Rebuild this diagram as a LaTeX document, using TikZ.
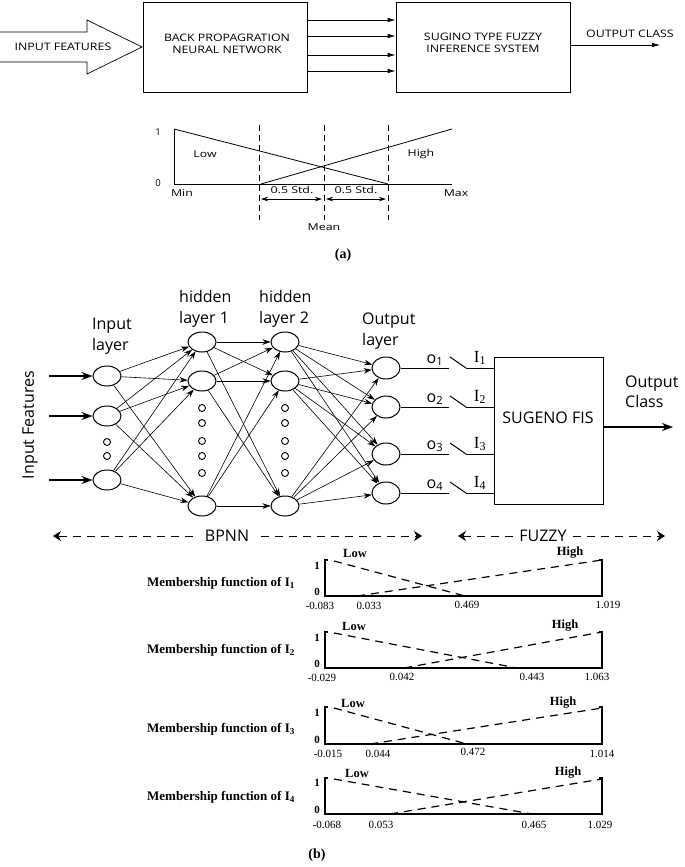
\documentclass[tikz,border=0pt]{standalone}
\usepackage{fontspec}
\setmainfont{Liberation Serif}
\newfontfamily\osans{Open Sans}
\usetikzlibrary{arrows.meta,shapes.geometric}
\newcommand\wx[2][1.2]{\scalebox{#1}[1]{#2}}
\begin{document}
\begin{tikzpicture}[x=1pt,y=-1pt,
 topbox/.style={draw,line width=0.7pt,minimum height=90pt,inner sep=0pt},
 toptxt/.style={font=\osans\fontsize{10.3}{12.5}\selectfont,align=center,inner sep=0pt},
 atxt/.style={font=\osans\fontsize{9.5}{11}\selectfont,inner sep=0pt},
 thinarr/.style={line width=0.7pt,-{Latex[length=8pt,width=4.5pt]}},
 aline/.style={line width=0.8pt},
 adash/.style={line width=0.8pt,dash pattern=on 6pt off 4pt},
 dblarr/.style={line width=0.7pt,{Stealth[length=7pt,width=4.5pt]}-{Stealth[length=7pt,width=4.5pt]}},
 neuron/.style={draw,ellipse,line width=1pt,minimum width=28pt,minimum height=20pt,inner sep=0pt},
 dotc/.style={draw,circle,line width=0.9pt,minimum size=7pt,inner sep=0pt},
 conn/.style={line width=0.6pt,-{Stealth[length=8pt,width=5.5pt]}},
 bigarr/.style={line width=1.4pt,-{Stealth[length=11pt,width=8pt]}},
 nlab/.style={font=\osans\fontsize{16}{20.5}\selectfont,align=left,inner sep=0pt},
 wire/.style={line width=1pt},
 dashrow/.style={line width=1pt,dash pattern=on 8pt off 6pt,-{Stealth[length=8pt,width=10pt]}},
 mfname/.style={font=\bfseries\fontsize{13}{15}\selectfont,inner sep=0pt,anchor=west},
 mflab/.style={font=\bfseries\fontsize{12.5}{14}\selectfont,inner sep=0pt},
 mfnum/.style={font=\bfseries\fontsize{11}{12}\selectfont,inner sep=0pt},
 ticklab/.style={font=\fontsize{11}{12}\selectfont,inner sep=0pt},
 mfdash/.style={line width=1.2pt,dash pattern=on 8pt off 6pt},
 mfaxis/.style={line width=1.6pt},
 captext/.style={font=\bfseries\fontsize{14}{16}\selectfont,inner sep=0pt},
]
\useasboundingbox (0,0) rectangle (685,867);
\fill[white] (0,0) rectangle (685,867);

% ---------------- top block diagram ----------------
\draw[line width=0.7pt] (0,32) -- (87,32) -- (87,20) -- (142,47) -- (87,74) -- (87,62) -- (0,62);
\node[toptxt] (inft) at (63,47) {\wx{INPUT FEATURES}};
\node[topbox,minimum width=164pt] (bpnn) at (225,47) {};
\node[toptxt] (bpnnt) at (227,44) {\wx{BACK PROPAGRATION}\\\wx{NEURAL NETWORK}};
\node[topbox,minimum width=174pt] (fis) at (483,47) {};
\node[toptxt] (fist) at (483,43) {\wx{SUGINO TYPE FUZZY}\\\wx{INFERENCE SYSTEM}};
\foreach \yy in {20,36,55,71} \draw[thinarr] (bpnn.east |- 0,\yy) -- (fis.west |- 0,\yy);
\coordinate (outend) at (660,45);
\draw[thinarr] (fis.east |- outend) -- (outend);
\node[toptxt] (outct) at (630,34) {\wx{OUTPUT CLASS}};

% ---------------- membership (a) ----------------
\coordinate (aO) at (174,184);
\coordinate (aT) at (174,129);
\coordinate (aM) at (452,184);
\coordinate (aH) at (452,129);
\coordinate (lowend) at (388,184);
\coordinate (highst) at (261,184);
\draw[aline] (aT) -- (aO) -- (aM);
\draw[aline] (aT) -- (lowend);
\draw[aline] (highst) -- (aH);
\foreach \xx in {259,324,388} \draw[adash] (\xx,125) -- (\xx,220);
\coordinate (s1a) at (261,199); \coordinate (s1b) at (322,199);
\coordinate (s2a) at (326,199); \coordinate (s2b) at (386,199);
\draw[dblarr] (s1a) -- (s1b);
\draw[dblarr] (s2a) -- (s2b);
\node[atxt] (a1) at (158,132) {1};
\node[atxt] (a0) at (158,183) {0};
\node[atxt] (alow) at (205,154) {\wx[1.3]{Low}};
\node[atxt] (ahigh) at (421,154) {\wx[1.3]{High}};
\node[atxt] (amin) at (182,193) {\wx[1.3]{Min}};
\node[atxt] (amax) at (456,193) {\wx[1.3]{Max}};
\node[atxt] (astd1) at (292,190) {\wx[1.3]{0.5 Std.}};
\node[atxt] (astd2) at (356,190) {\wx[1.3]{0.5 Std.}};
\node[atxt] (amean) at (324,227) {\wx[1.3]{Mean}};
\node[captext] (capa) at (343,255) {(a)};

% ---------------- network ----------------
\node[neuron] (in1) at (107,376) {};
\node[neuron] (in2) at (107,416) {};
\node[neuron] (in3) at (107,480) {};
\node[dotc] (ind1) at (107,442) {};
\node[dotc] (ind2) at (107,456) {};
\node[neuron] (h1a) at (202,342) {};
\node[neuron] (h1b) at (202,381) {};
\node[neuron] (h1c) at (202,506) {};
\node[neuron] (h2a) at (285,342) {};
\node[neuron] (h2b) at (285,381) {};
\node[neuron] (h2c) at (285,506) {};
\foreach \yy [count=\k] in {408,423,441,456,473} {
  \node[dotc] (hd1\k) at (202,\yy) {};
  \node[dotc] (hd2\k) at (285,\yy) {};
}
\node[neuron,minimum height=22pt] (o1) at (386,368) {};
\node[neuron,minimum height=22pt] (o2) at (386,407) {};
\node[neuron,minimum height=22pt] (o3) at (386,454) {};
\node[neuron,minimum height=22pt] (o4) at (386,493) {};

\foreach \s in {in1,in2,in3} \foreach \t in {h1a,h1b,h1c} \draw[conn] (\s) -- (\t);
\foreach \s in {h1a,h1b,h1c} \foreach \t in {h2a,h2b,h2c} \draw[conn] (\s) -- (\t);
\foreach \s in {h2a,h2b,h2c} \foreach \t in {o1,o2,o3,o4} \draw[conn] (\s) -- (\t);

\foreach \n in {in1,in2,in3} {
  \coordinate (src\n) at (49,0);
  \draw[bigarr] (src\n |- \n) -- (\n.west);
}
\node[nlab,rotate=90] (inf) at (30,425) {Input Features};
\node[nlab,anchor=west] (inl) at (92,336) {Input\\layer};
\node[nlab,anchor=west] (h1l) at (179,309) {hidden\\layer 1};
\node[nlab,anchor=west] (h2l) at (259,309) {hidden\\layer 2};
\node[nlab,anchor=west] (outl) at (362,331) {Output\\layer};

% fuzzy system box
\node[draw,line width=1pt,minimum width=109pt,minimum height=147pt,inner sep=0pt] (sug) at (548.5,430.5) {};
\node[nlab] (sugt) at (548,418) {SUGENO FIS};
\foreach \o [count=\k] in {o1,o2,o3,o4} {
  \coordinate (sw\k a) at (449,0);
  \coordinate (sw\k b) at (466,0);
  \draw[wire] (\o.east) -- (sw\k a |- \o);
  \draw[wire] ([yshift=11pt]sw\k a |- \o) ++(1,0) -- (sw\k b |- \o);
  \draw[wire] (sw\k b |- \o) -- (sug.west |- \o);
  \node[nlab,anchor=base] (ol\k) at ([yshift=5pt]435,0 |- \o) {o\textsubscript{\k}};
  \node[font=\fontsize{17}{20}\selectfont,inner sep=0pt,anchor=base] (il\k) at ([yshift=6pt]480,0 |- \o) {I\textsubscript{\k}};
}
\coordinate (clsend) at (673,427);
\draw[bigarr] (sug.east |- clsend) -- (clsend);
\node[nlab,anchor=west] (clsl) at (625,392) {Output\\Class};

% BPNN / FUZZY extent arrows
\node[nlab,inner xsep=12pt] (bpl) at (227,536) {BPNN};
\coordinate (bpL) at (53,536);
\coordinate (bpR) at (422,536);
\draw[dashrow] (bpl.west) -- (bpL);
\draw[dashrow] (bpl.east) -- (bpR);
\node[nlab,inner xsep=6pt] (fzl) at (543,536) {FUZZY};
\coordinate (fzL) at (458,536);
\coordinate (fzR) at (665,536);
\draw[dashrow] (fzl.west) -- (fzL);
\draw[dashrow] (fzl.east) -- (fzR);

% ---------------- membership functions (b) ----------------
% MF1
\node[mfname] (m1t) at (147,583) {Membership function of I\textsubscript{1}};
\draw[mfaxis] (328,560) -- (325,560) -- (325,596) -- (602,596) -- (602,560) -- (599,560);
\draw[mfdash] (334,561) -- (465,596);
\draw[mfdash] (357,596) -- (602,560);
\node[mflab] (m1lo) at (355,553) {Low};
\node[mflab] (m1hi) at (570,553) {High};
\node[mfnum] (m1one) at (317,566) {1};
\node[mfnum] (m1zero) at (317,592) {0};
\node[ticklab] (m1a) at (320,606) {-0.083};
\node[ticklab] (m1b) at (369,606) {0.033};
\node[ticklab] (m1c) at (467,605) {0.469};
\node[ticklab] (m1d) at (608,605) {1.019};
% MF2
\node[mfname] (m2t) at (147,650) {Membership function of I\textsubscript{2}};
\draw[mfaxis] (328,632) -- (325,632) -- (325,668) -- (602,668) -- (602,632) -- (599,632);
\draw[mfdash] (334,633) -- (517,668);
\draw[mfdash] (404,668) -- (602,632);
\node[mflab] (m2lo) at (354,626) {Low};
\node[mflab] (m2hi) at (565,626) {High};
\node[mfnum] (m2one) at (317,638) {1};
\node[mfnum] (m2zero) at (317,664) {0};
\node[ticklab] (m2a) at (322,678) {-0.029};
\node[ticklab] (m2b) at (402,677) {0.042};
\node[ticklab] (m2c) at (532,677) {0.443};
\node[ticklab] (m2d) at (597,677) {1.063};
% MF3
\node[mfname] (m3t) at (147,729) {Membership function of I\textsubscript{3}};
\draw[mfaxis] (328,707) -- (325,707) -- (325,744) -- (602,744) -- (602,707) -- (599,707);
\draw[mfdash] (334,708) -- (467,744);
\draw[mfdash] (370,744) -- (602,708);
\node[mflab] (m3lo) at (353,703) {Low};
\node[mflab] (m3hi) at (563,703) {High};
\node[mfnum] (m3one) at (317,713) {1};
\node[mfnum] (m3zero) at (317,740) {0};
\node[ticklab] (m3a) at (328,754) {-0.015};
\node[ticklab] (m3b) at (378,754) {0.044};
\node[ticklab] (m3c) at (473,752) {0.472};
\node[ticklab] (m3d) at (602,754) {1.014};
% MF4
\node[mfname] (m4t) at (147,797) {Membership function of I\textsubscript{4}};
\draw[mfaxis] (328,778) -- (325,778) -- (325,814) -- (602,814) -- (602,778) -- (599,778);
\draw[mfdash] (334,779) -- (532,814);
\draw[mfdash] (390,814) -- (602,779);
\node[mflab] (m4lo) at (357,773) {Low};
\node[mflab] (m4hi) at (568,773) {High};
\node[mfnum] (m4one) at (317,783) {1};
\node[mfnum] (m4zero) at (317,810) {0};
\node[ticklab] (m4a) at (327,825) {-0.068};
\node[ticklab] (m4b) at (381,825) {0.053};
\node[ticklab] (m4c) at (534,825) {0.465};
\node[ticklab] (m4d) at (600,825) {1.029};

\node[captext] (capb) at (317,855) {(b)};
\end{tikzpicture}
\end{document}
